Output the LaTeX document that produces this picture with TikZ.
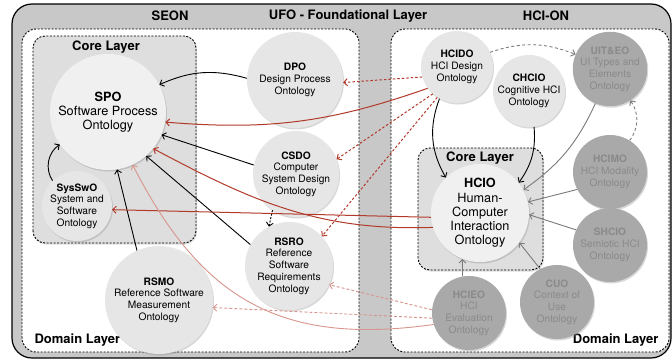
\documentclass[tikz,border=0pt]{standalone}
\usepackage{fontspec}
\setmainfont{TeX Gyre Heros}
\usetikzlibrary{arrows.meta,positioning,shadows}

\definecolor{framegray}{HTML}{C8C8C8}
\definecolor{coregray}{HTML}{DEDEDE}
\definecolor{ontofill}{HTML}{E6E6E6}
\definecolor{mainfill}{HTML}{F0F0F0}
\definecolor{greyfill}{HTML}{A9A9A9}
\definecolor{greytext}{HTML}{8A8A8A}
\definecolor{relred}{HTML}{B23A2B}
\definecolor{palered}{HTML}{D8958B}
\definecolor{relgrey}{HTML}{7A7A7A}

\begin{document}
\begin{tikzpicture}[x=1pt,y=1pt,>={Straight Barb[length=3.5pt,width=7pt]},
  onto node/.style={circle,fill=ontofill,inner sep=0pt,align=center,
    drop shadow={shadow xshift=1pt,shadow yshift=-1.5pt,opacity=0.3},
    font=\fontsize{10.2}{11.7}\selectfont},
  main onto/.style={onto node,fill=mainfill,font=\fontsize{12.7}{14.2}\selectfont},
  grey node/.style={onto node,fill=greyfill,text=greytext},
  layer box/.style={draw,fill=white,line width=0.9pt,dash pattern=on 2pt off 1.5pt,
    rounded corners=14pt},
  core box/.style={layer box,fill=coregray,rounded corners=12pt,
    drop shadow={shadow xshift=1pt,shadow yshift=-1.5pt,opacity=0.25}},
  title/.style={font=\fontsize{13}{15}\selectfont\bfseries},
  black rel/.style={->,line width=0.9pt},
  red rel/.style={->,line width=1pt,relred},
  red dash/.style={red rel,dash pattern=on 2.5pt off 2pt},
  pale rel/.style={->,line width=0.9pt,palered},
  grey rel/.style={->,line width=0.9pt,relgrey},
  grey dash/.style={grey rel,dash pattern=on 3pt off 2.5pt}]
    \useasboundingbox (0,0) rectangle (672,360);
    % frame and layers
    \draw[line width=1.2pt,fill=framegray,rounded corners=20pt] (12,2) rectangle (671,356);
    \draw[layer box] (22,8) rectangle (359,331);
    \draw[layer box] (391,8) rectangle (669,331);
    \draw[core box] (33,117) rectangle (196,324);
    \draw[core box] (418,90) rectangle (543,212);

    \node[title](SEON) at (170,344){SEON};
    \node[title](UFO) at (348,344){UFO - Foundational Layer};
    \node[title](HCION) at (546,344){HCI-ON};
    \node[title](core1) at (106,313){Core Layer};
    \node[title](core2) at (480,202){Core Layer};
    \node[title,anchor=west](dom1) at (31,20){Domain Layer};
    \node[title,anchor=east](dom2) at (662,20){Domain Layer};

    % SEON ontologies
    \node[main onto,minimum size=116pt](SPO) at (108,248){\textbf{SPO}\\Software Process\\Ontology};
    \node[onto node,minimum size=96pt](DPO) at (295,280){\textbf{DPO}\\Design Process\\Ontology};
    \node[onto node,minimum size=86pt](CSDO) at (296,186){\textbf{CSDO}\\Computer\\System Design\\Ontology};
    \node[onto node,minimum size=88pt](RSRO) at (289,94){\textbf{RSRO}\\Reference\\Software\\Requirements\\Ontology};
    \node[onto node,minimum size=108pt](RSMO) at (159,60){\textbf{RSMO}\\Reference Software\\Measurement\\Ontology};
    \node[onto node,minimum size=70pt](SysSwO) at (77,154){\textbf{SysSwO}\\System and\\Software\\Ontology};

    % HCI-ON ontologies
    \node[main onto,minimum size=98pt](HCIO) at (480,147){\textbf{HCIO}\\Human-\\Computer\\Interaction\\Ontology};
    \node[onto node,minimum size=72pt](HCIDO) at (457,293){\textbf{HCIDO}\\HCI Design\\Ontology};
    \node[onto node,minimum size=72pt](CHCIO) at (529,269){\textbf{CHCIO}\\Cognitive HCI\\Ontology};
    \node[grey node,minimum size=74pt](UITEO) at (610,291){\textbf{UIT\&EO}\\UI Types and\\Elements\\Ontology};
    \node[grey node,minimum size=74pt](HCIMO) at (610,188){\textbf{HCIMO}\\HCI Modality\\Ontology};
    \node[grey node,minimum size=74pt](SHCIO) at (610,115){\textbf{SHCIO}\\Semiotic HCI\\Ontology};
    \node[grey node,minimum size=74pt](HCIEO) at (469,47){\textbf{HCIEO}\\HCI\\Evaluation\\Ontology};
    \node[grey node,minimum size=74pt](CUO) at (557,58){\textbf{CUO}\\Context of\\Use\\Ontology};

    % relations
    \path[black rel]
          (DPO.178) edge[bend right=20] (SPO.28)
          (CSDO.168) edge (SPO.337)
          (RSRO.151) edge (SPO.311)
          (RSMO.114) edge (SPO.279)
          (SysSwO.134) edge[bend left=45] (SPO.214)
          (HCIDO.241) edge[bend right=25] (HCIO.134)
          (CHCIO.278) edge[bend left=20] (HCIO.38)
    ;
    \path[black rel,dash pattern=on 2pt off 1.5pt]
          (CSDO.237) edge (RSRO.117)
    ;
    \path[red rel]
          (HCIDO.216) edge[bend left=12] (SPO.350)
          (HCIO.197) edge[out=182,in=-28] (SPO.321)
          (HCIO.185) edge (SysSwO.354)
    ;
    \path[red dash]
          (HCIDO.196) edge (DPO.357)
          (HCIDO.228) edge (CSDO.20)
          (HCIDO.237) edge (RSRO.42)
    ;
    \path[pale rel]
          (HCIEO.175) edge[dash pattern=on 3pt off 2pt] (RSRO.335)
          (HCIEO.188) edge[dash pattern=on 3pt off 2pt] (RSMO.352)
          (HCIEO.198) edge[out=188,in=297,looseness=1.15] (SPO.295)
    ;
    \path[grey rel]
          (UITEO.247) edge[bend left=15] (HCIO.28)
          (HCIMO.208) edge (HCIO.13)
          (SHCIO.156) edge (HCIO.358)
          (CUO.117) edge (HCIO.323)
          (HCIEO.100) edge (HCIO.249)
    ;
    \path[grey dash]
          (HCIDO.24) edge[bend left=20] (UITEO.157)
          (HCIMO.58) edge[bend right=35] (UITEO.303)
    ;
\end{tikzpicture}
\end{document}
